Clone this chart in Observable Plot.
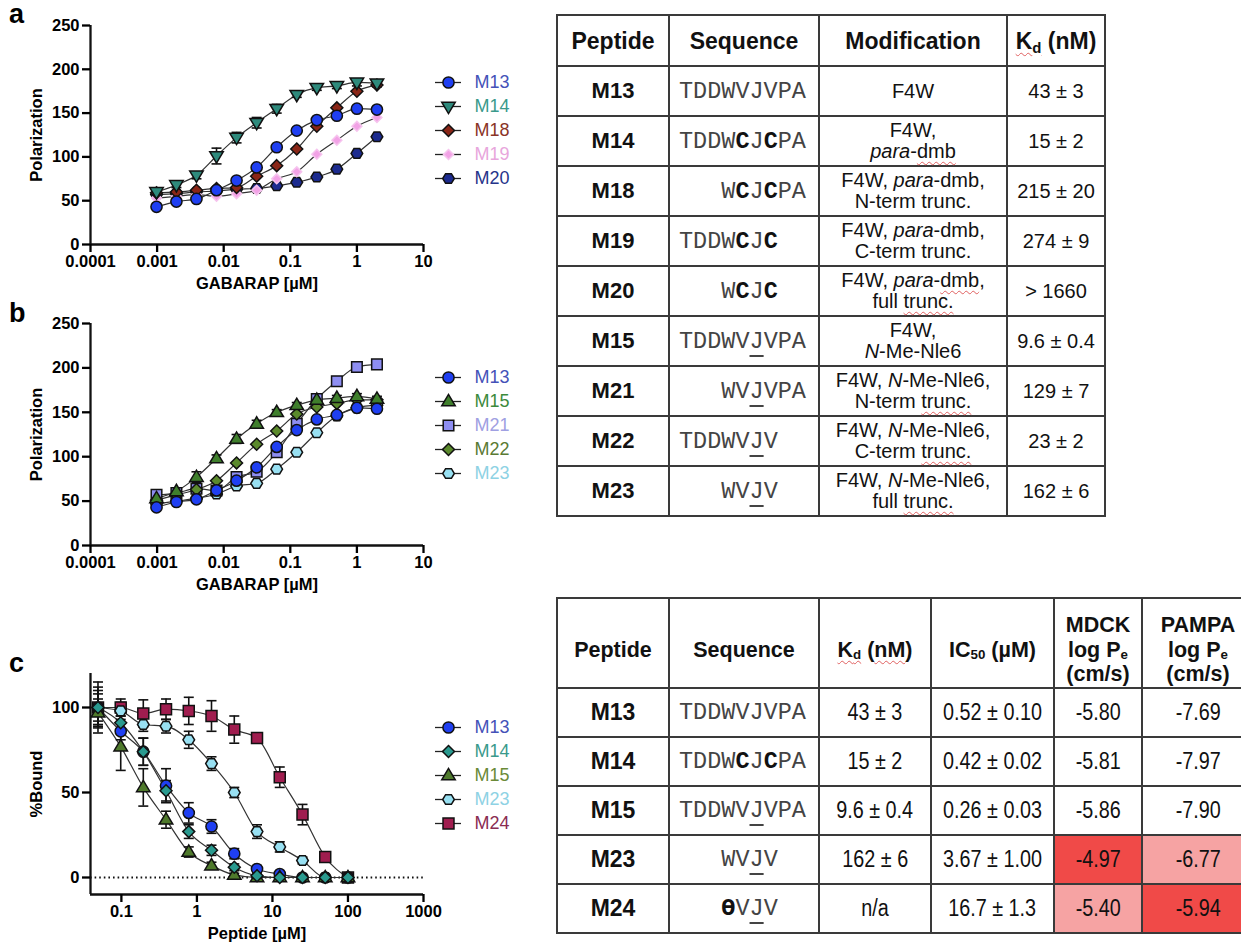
<!DOCTYPE html>
<html><head><meta charset="utf-8">
<script src="https://cdn.jsdelivr.net/npm/d3@7"></script>
<script src="https://cdn.jsdelivr.net/npm/@observablehq/plot@0.6"></script>
<style>
html,body{margin:0;padding:0;background:#fff;width:1241px;height:949px;overflow:hidden;position:relative;font-family:"Liberation Sans",Arial,sans-serif;}
.box{position:absolute;}
.panel{position:absolute;left:9px;font:bold 27px/27px "Liberation Sans",Arial,sans-serif;color:#000;}
table.t{position:absolute;border-collapse:collapse;table-layout:fixed;color:#111;}
table.t td,table.t th{border:2px solid #3a3a3a;text-align:center;vertical-align:middle;padding:0;}
table.t th{font-weight:bold;font-size:23px;line-height:26px;}
table.t td.pep{font-weight:bold;font-size:22px;}
table.t td.seq{font-family:"Liberation Mono","Courier New",monospace;font-size:23.5px;text-align:left;padding-left:9px;white-space:pre;color:#444;}
table.t td.seq b{color:#111;}
table.t td.mod{font-size:20px;line-height:21px;}
table.t td.val{font-size:20px;}
table.t2 th{font-size:21.5px;line-height:24.5px;padding-top:14px;}
table.t2 th sub{font-size:0.62em;vertical-align:-2px;}
table.t2 td.pep{font-size:23px;}
table.t2 td.val{font-size:23px;}
table.t2 .n{display:inline-block;transform:scaleX(0.86);white-space:nowrap;}
.sq{text-decoration:underline wavy #e06060;text-decoration-thickness:1px;text-underline-offset:3px;}
u.j{text-decoration:underline;text-decoration-thickness:2px;text-underline-offset:7px;}
sub{font-size:0.65em;vertical-align:-0.3em;line-height:0;}
</style>
</head><body>
<div class="panel" style="top:1px">a</div>
<div class="panel" style="top:300px">b</div>
<div class="panel" style="top:650px">c</div>
<div id="pa" class="box" style="left:0;top:0"></div>
<div id="pb" class="box" style="left:0;top:298px"></div>
<div id="pc" class="box" style="left:0;top:648px"></div>
<div id="la" class="box" style="left:420px;top:52px"></div>
<div id="lb" class="box" style="left:420px;top:347px"></div>
<div id="lc" class="box" style="left:420px;top:697px"></div>
<table id="t1" class="t" style="left:556px;top:14px"></table>
<table id="t2" class="t t2" style="left:556px;top:597px"></table>
<script>
// ---------- data: panels a and b (fluorescence polarization) ----------
const concAB = [0.00098, 0.00195, 0.0039, 0.0078, 0.0156, 0.03125, 0.0625, 0.125, 0.25, 0.5, 1, 2];
const polM13 = [43, 49, 52, 62, 73, 88, 111, 130, 142, 147, 155, 154];
const polM14 = [60, 68, 79, 101, 122, 139, 155, 171, 179, 181, 185, 184];
const errM14 = [3, 3, 4, 9, 6, 6, 5, 3, 3, 3, 4, 4];
const polM18 = [59, 60, 62, 64, 65, 78, 90, 109, 135, 156, 175, 182];
const polM19 = [53, 55, 57, 55, 58, 62, 75, 83, 103, 119, 135, 145];
const polM20 = [57, 58, 60, 61, 63, 64, 67, 71, 77, 86, 104, 123];
const polM15 = [53, 61, 77, 98, 120, 137, 150, 158, 164, 166, 168, 165];
const errM15 = [3, 4, 6, 4, 5, 4, 3, 3, 3, 3, 3, 3];
const polM21 = [57, 59, 64, 62, 77, 83, 105, 137, 165, 185, 201, 204];
const polM22 = [51, 57, 63, 73, 93, 114, 129, 148, 156, 160, 164, 164];
const polM23 = [47, 50, 53, 58, 67, 70, 86, 105, 127, 146, 155, 158];
const ticksAB = [0.0001, 0.001, 0.01, 0.1, 1, 10];
const yTicksAB = [0, 50, 100, 150, 200, 250];

// ---------- data: panel c (competition) ----------
const concC = [0.049, 0.098, 0.195, 0.39, 0.78, 1.56, 3.125, 6.25, 12.5, 25, 50, 100];
const bndM13 = [100, 86, 74, 54, 38, 30, 14, 5, 2, 0, 0, 0];
const sdM13  = [12, 5, 8, 10, 6, 4, 3, 2, 1, 1, 1, 1];
const bndM14 = [100, 91, 74, 51, 27, 16, 6, 1, 0, 0, 0, 0];
const sdM14  = [10, 4, 8, 6, 4, 3, 2, 1, 1, 1, 1, 1];
const bndM15 = [97, 77, 53, 34, 15, 7, 1.5, 0, 0, 0, 0, 0];
const sdM15  = [8, 14, 11, 5, 3, 2, 1, 1, 1, 1, 1, 1];
const bndM23 = [100, 98, 90, 89, 81, 67, 50, 27, 18, 10, 0, 0];
const sdM23  = [8, 5, 4, 4, 5, 4, 3, 4, 3, 2, 1, 1];
const bndM24 = [100, 100, 96.5, 99, 98, 95, 87, 82, 59, 37, 12, 0];
const sdM24  = [15, 5, 8, 6, 8, 9, 8, 2, 6, 6, 2, 2];
const ticksC = [0.1, 1, 10, 100, 1000];
const yTicksC = [0, 50, 100];

// ---------- data: tables ----------
const t1Peptides = ["M13", "M14", "M18", "M19", "M20", "M15", "M21", "M22", "M23"];
const t1Sequences = ["TDDWVJVPA", "TDDWCJCPA", "   WCJCPA", "TDDWCJC", "   WCJC", "TDDWVJVPA", "   WVJVPA", "TDDWVJV", "   WVJV"];
const t1NMe = [false, false, false, false, false, true, true, true, true];
const t1Mods = ["F4W", "F4W,\n*para*-~dmb~", "F4W, *para*-dmb,\nN-term trunc.", "F4W, *para*-dmb,\nC-term trunc.",
  "F4W, *para*-~dmb~,\nfull ~trunc.~", "F4W,\n*N*-Me-Nle6", "F4W, *N*-Me-Nle6,\nN-term ~trunc.~",
  "F4W, *N*-Me-Nle6,\nC-term ~trunc.~", "F4W, *N*-Me-Nle6,\nfull ~trunc.~"];
const t1Kd = ["43 ± 3", "15 ± 2", "215 ± 20", "274 ± 9", "> 1660", "9.6 ± 0.4", "129 ± 7", "23 ± 2", "162 ± 6"];
const t1Headers = ["Peptide", "Sequence", "Modification", "<span class='sq'>K<sub>d</sub></span> (nM)"];

const t2Peptides = ["M13", "M14", "M15", "M23", "M24"];
const t2Sequences = ["TDDWVJVPA", "TDDWCJCPA", "TDDWVJVPA", "   WVJV", "   ϴVJV"];
const t2NMe = [false, false, true, true, true];
const t2Kd = ["43 ± 3", "15 ± 2", "9.6 ± 0.4", "162 ± 6", "n/a"];
const t2IC50 = ["0.52 ± 0.10", "0.42 ± 0.02", "0.26 ± 0.03", "3.67 ± 1.00", "16.7 ± 1.3"];
const t2MDCK = ["-5.80", "-5.81", "-5.86", "-4.97", "-5.40"];
const t2PAMPA = ["-7.69", "-7.97", "-7.90", "-6.77", "-5.94"];
const t2MDCKBg = ["#fff", "#fff", "#fff", "#f04a48", "#f6a3a3"];
const t2PAMPABg = ["#fff", "#fff", "#fff", "#f6a3a3", "#f04a48"];
const t2Headers = ["Peptide", "Sequence", "<span class='sq'>K<sub>d</sub></span> (<span class='sq'>nM</span>)",
  "IC<sub>50</sub> (µM)", "MDCK<br>log P<sub>e</sub><br>(cm/s)", "PAMPA<br>log P<sub>e</sub><br>(cm/s)"];

// ---------- symbols ----------
const rad = s => Math.sqrt(s / Math.PI);
const capSym = {draw(c, s) { const r = rad(s); c.moveTo(-r, 0); c.lineTo(r, 0); }};
const triDown = {draw(c, s) { const r = rad(s); c.moveTo(-1.25*r, -0.8*r); c.lineTo(1.25*r, -0.8*r); c.lineTo(0, 1.3*r); c.closePath(); }};
const triUp = {draw(c, s) { const r = rad(s); c.moveTo(-1.25*r, 0.8*r); c.lineTo(1.25*r, 0.8*r); c.lineTo(0, -1.3*r); c.closePath(); }};
const diamond = {draw(c, s) { const r = rad(s) * 1.3; c.moveTo(0, -r); c.lineTo(r, 0); c.lineTo(0, r); c.lineTo(-r, 0); c.closePath(); }};
const hexagon = {draw(c, s) { const r = rad(s) * 1.12; for (let i = 0; i < 6; i++) { const a = i * Math.PI / 3; const x = r * Math.cos(a), y = r * Math.sin(a) * 0.95; i ? c.lineTo(x, y) : c.moveTo(x, y); } c.closePath(); }};
const square = {draw(c, s) { const r = rad(s) * 0.98; c.rect(-r, -r, 2*r, 2*r); }};
const circle = {draw(c, s) { const r = rad(s); c.moveTo(r, 0); c.arc(0, 0, r, 0, 2 * Math.PI); }};

const FONT = '"Liberation Sans", Arial, sans-serif';

function chart({conc, series, xDomain, xTicks, yDomain, yTicks, xLabel, yLabel, height, marginBottom, zeroLine}) {
  const rows = [];
  series.forEach(s => s.values.forEach((v, i) => rows.push({name: s.name, x: conc[i], y: v, e: s.err ? s.err[i] : 0})));
  const eb = rows.filter(d => d.e > 0);
  const caps = eb.flatMap(d => [{x: d.x, y: d.y + d.e}, {x: d.x, y: d.y - d.e}]);
  const marks = [
    Plot.ruleX([xDomain[0]], {stroke: "#111", strokeWidth: 2.3}),
    Plot.ruleY([yDomain[0]], {stroke: "#111", strokeWidth: 2.3})
  ];
  if (zeroLine) marks.push(Plot.ruleY([0], {stroke: "#111", strokeWidth: 1.8, strokeDasharray: "1.6,3"}));
  marks.push(Plot.line(rows, {x: "x", y: "y", z: "name", curve: "monotone-x", stroke: "#333", strokeWidth: 1.2}));
  marks.push(Plot.ruleX(eb, {x: "x", y1: d => d.y - d.e, y2: d => d.y + d.e, stroke: "#111", strokeWidth: 1.6}));
  marks.push(Plot.dot(caps, {x: "x", y: "y", symbol: capSym, r: 5, stroke: "#111", strokeWidth: 1.6, fill: "none"}));
  for (const s of series) {
    marks.push(Plot.dot(rows.filter(d => d.name === s.name), {x: "x", y: "y", symbol: s.symbol, r: s.r, fill: s.fill, stroke: s.stroke || "#111", strokeWidth: 1.5}));
  }
  marks.push(Plot.axisX({ticks: xTicks, tickFormat: d => String(d), tickSize: 8, tickPadding: 3, strokeWidth: 2.3,
    fontSize: 16.5, fontWeight: "bold",
    label: xLabel, labelAnchor: "center", labelOffset: 44, labelArrow: "none"}));
  marks.push(Plot.axisY({ticks: yTicks, tickSize: 8, tickPadding: 3, strokeWidth: 2.3,
    fontSize: 16.5, fontWeight: "bold",
    label: yLabel, labelAnchor: "center", labelOffset: 60, labelArrow: "none"}));
  return Plot.plot({
    width: 440, height, marginLeft: 90, marginRight: 17, marginTop: 25, marginBottom,
    style: {fontFamily: FONT, fontSize: "16.5px", fontWeight: "bold", color: "#000", background: "transparent", overflow: "visible"},
    x: {type: "log", domain: xDomain},
    y: {domain: yDomain},
    marks
  });
}

function legend(items) {
  const n = items.length;
  const marks = [Plot.ruleY(items, {y: "name", x1: 0, x2: 1, stroke: "#222", strokeWidth: 1.3})];
  for (const it of items) {
    marks.push(Plot.dot([it], {x: 0.5, y: "name", symbol: it.symbol, r: it.r, fill: it.fill, stroke: it.stroke || "#111", strokeWidth: 1.5}));
    marks.push(Plot.text([it], {x: 1, y: "name", text: "name", dx: 13, textAnchor: "start", fill: it.color, fontSize: 18, fontWeight: "normal"}));
  }
  return Plot.plot({
    width: 110, height: 31 * n, marginLeft: 15, marginRight: 69, marginTop: 15.5, marginBottom: 15.5,
    style: {fontFamily: FONT, background: "transparent", overflow: "visible"},
    x: {domain: [0, 1], axis: null},
    y: {type: "point", domain: items.map(d => d.name), axis: null},
    marks
  });
}

// series styles
const S = {
  M13: {name: "M13", symbol: circle, r: 5.6, fill: "#1f3ff2", color: "#4452b8"},
  M14a: {name: "M14", symbol: triDown, r: 5.4, fill: "#2e8a7c", color: "#3a9a8c"},
  M18: {name: "M18", symbol: diamond, r: 4.6, fill: "#8a2617", color: "#8a3426"},
  M19: {name: "M19", symbol: diamond, r: 3.8, fill: "#f2a2e6", stroke: "#f6c4ee", color: "#e8a6dc"},
  M20: {name: "M20", symbol: hexagon, r: 5.2, fill: "#1c2b8f", color: "#26348a"},
  M15: {name: "M15", symbol: triUp, r: 5.4, fill: "#3f7f2c", color: "#3c8a3c"},
  M21: {name: "M21", symbol: square, r: 5.4, fill: "#8e8ef2", color: "#a0a0e2"},
  M22: {name: "M22", symbol: diamond, r: 4.6, fill: "#5b8a2c", color: "#5a7a34"},
  M23: {name: "M23", symbol: hexagon, r: 5.2, fill: "#98e0f2", color: "#8ed2e4"},
  M14c: {name: "M14", symbol: diamond, r: 4.6, fill: "#2a9a8f", color: "#3a9a8c"},
  M15c: {name: "M15", symbol: triUp, r: 5.4, fill: "#4f7a2c", color: "#6a8a38"},
  M24: {name: "M24", symbol: square, r: 5.6, fill: "#a01d4f", color: "#8a2c52"}
};

document.getElementById("pa").append(chart({
  conc: concAB, xDomain: [0.0001, 10], xTicks: ticksAB, yDomain: [0, 250], yTicks: yTicksAB,
  xLabel: "GABARAP [µM]", yLabel: "Polarization", height: 300, marginBottom: 56,
  series: [
    {...S.M20, values: polM20}, {...S.M19, values: polM19}, {...S.M18, values: polM18},
    {...S.M14a, values: polM14, err: errM14}, {...S.M13, values: polM13}
  ]
}));
document.getElementById("pb").append(chart({
  conc: concAB, xDomain: [0.0001, 10], xTicks: ticksAB, yDomain: [0, 250], yTicks: yTicksAB,
  xLabel: "GABARAP [µM]", yLabel: "Polarization", height: 303, marginBottom: 56,
  series: [
    {...S.M23, values: polM23}, {...S.M21, values: polM21}, {...S.M22, values: polM22},
    {...S.M15, values: polM15, err: errM15}, {...S.M13, values: polM13}
  ]
}));
document.getElementById("pc").append(chart({
  conc: concC, xDomain: [0.039, 1000], xTicks: ticksC, yDomain: [-10, 120], yTicks: yTicksC,
  xLabel: "Peptide [µM]", yLabel: "%Bound", height: 301, marginBottom: 55, zeroLine: true,
  series: [
    {...S.M24, values: bndM24, err: sdM24}, {...S.M23, values: bndM23, err: sdM23},
    {...S.M13, values: bndM13, err: sdM13}, {...S.M15c, values: bndM15, err: sdM15},
    {...S.M14c, values: bndM14, err: sdM14}
  ]
}));
document.getElementById("la").append(legend([S.M13, S.M14a, S.M18, S.M19, S.M20]));
document.getElementById("lb").append(legend([S.M13, S.M15, S.M21, S.M22, S.M23]));
document.getElementById("lc").append(legend([S.M13, S.M14c, S.M15c, S.M23, S.M24]));

// ---------- tables ----------
function fmtMod(s) {
  return s.replace(/\*([^*]+)\*/g, "<i>$1</i>").replace(/~([^~]+)~/g, "<span class='sq'>$1</span>").replace(/\n/g, "<br>");
}
function fmtSeq(s, nme) {
  return [...s].map(ch => ch === "C" ? "<b>C</b>" : (ch === "J" && nme) ? "<u class='j'>J</u>" : (ch === "ϴ" ? "<b>ϴ</b>" : ch)).join("");
}
const wrapN = x => `<span class="n">${x}</span>`;
function buildTable(el, widths, headers, headH, rows, rowH) {
  let h = "<colgroup>" + widths.map(w => `<col style="width:${w}px">`).join("") + "</colgroup>";
  h += `<tr style="height:${headH}px">` + headers.map(x => `<th>${x}</th>`).join("") + "</tr>";
  for (const r of rows) h += `<tr style="height:${rowH}px">` + r.join("") + "</tr>";
  el.style.width = widths.reduce((a, b) => a + b, 0) + "px";
  el.innerHTML = h;
}
buildTable(document.getElementById("t1"), [112, 150, 188, 98], t1Headers, 51,
  t1Peptides.map((p, i) => [
    `<td class="pep">${p}</td>`, `<td class="seq">${fmtSeq(t1Sequences[i], t1NMe[i])}</td>`,
    `<td class="mod">${fmtMod(t1Mods[i])}</td>`, `<td class="val">${t1Kd[i]}</td>`]), 50);
buildTable(document.getElementById("t2"), [112, 150, 112, 123, 88, 112], t2Headers, 90,
  t2Peptides.map((p, i) => [
    `<td class="pep">${p}</td>`, `<td class="seq">${fmtSeq(t2Sequences[i], t2NMe[i])}</td>`,
    `<td class="val">${wrapN(t2Kd[i])}</td>`, `<td class="val">${wrapN(t2IC50[i])}</td>`,
    `<td class="val" style="background:${t2MDCKBg[i]}">${wrapN(t2MDCK[i])}</td>`,
    `<td class="val" style="background:${t2PAMPABg[i]}">${wrapN(t2PAMPA[i])}</td>`]), 49);
</script>
</body></html>
